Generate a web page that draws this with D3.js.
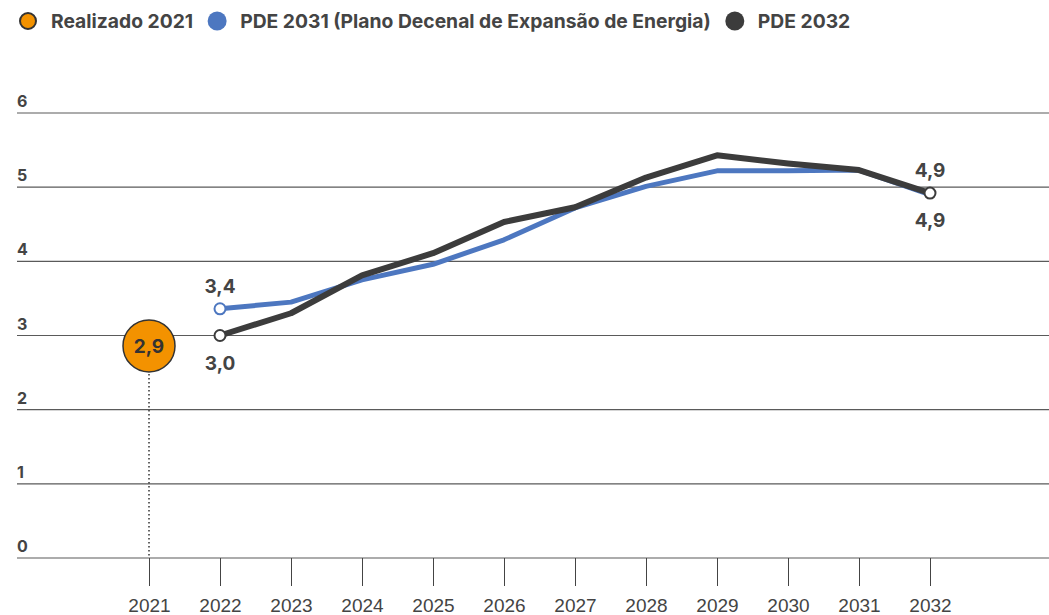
<!DOCTYPE html>
<html>
<head>
<meta charset="utf-8">
<script src="https://cdn.jsdelivr.net/npm/d3@7"></script>
<style>
  body { margin: 0; background: #fff; }
  svg { display: block; }
</style>
</head>
<body>
<svg id="chart"></svg>
<script>
const years = [2021, 2022, 2023, 2024, 2025, 2026, 2027, 2028, 2029, 2030, 2031, 2032];
const realizado = [{ ano: 2021, valor: 2.9 }];
const pde2031 = [3.36, 3.45, 3.75, 3.96, 4.29, 4.72, 5.01, 5.22, 5.22, 5.23, 4.9];
const pde2032 = [3.0, 3.3, 3.81, 4.11, 4.53, 4.73, 5.13, 5.43, 5.32, 5.23, 4.92];
const pdeYears = years.slice(1);
const yTicks = [0, 1, 2, 3, 4, 5, 6];
const legendItems = ["Realizado 2021", "PDE 2031 (Plano Decenal de Expansão de Energia)", "PDE 2032"];

const W = 1049, H = 615;
const colors = { real: "#f39200", blue: "#4d77c0", dark: "#3c3c3c", text: "#444" };
const labelFont = "Inter, 'Liberation Sans', sans-serif";

const svg = d3.select("#chart").attr("width", W).attr("height", H);

const x = d3.scalePoint().domain(years).range([149, 930]);
const y = d3.scaleLinear().domain([0, 6]).range([558, 113]);

// grid lines + y labels
const grid = svg.append("g");
yTicks.forEach(t => {
  grid.append("line")
    .attr("x1", 17).attr("x2", W)
    .attr("y1", y(t)).attr("y2", y(t))
    .attr("stroke", "#5a5a5a").attr("stroke-width", 1.2);
  grid.append("text")
    .attr("x", 17).attr("y", y(t) - 6)
    .attr("font-family", labelFont).attr("font-weight", 700)
    .attr("font-size", 16).attr("fill", colors.text)
    .text(t);
});

// x axis ticks
const xAxis = svg.append("g").attr("transform", "translate(0," + y(0) + ")")
  .call(d3.axisBottom(x).tickSize(28).tickPadding(13));
xAxis.select(".domain").remove();
xAxis.selectAll("line").attr("stroke", "#444");
xAxis.selectAll("text")
  .attr("font-family", "'Liberation Sans', Arial, sans-serif")
  .attr("font-size", 19).attr("fill", colors.text);

// dotted guide for realizado
svg.append("line")
  .attr("x1", x(2021)).attr("x2", x(2021))
  .attr("y1", y(realizado[0].valor) + 27).attr("y2", y(0))
  .attr("stroke", "#333").attr("stroke-width", 1.5)
  .attr("stroke-dasharray", "1.5,2.5");

const line = d3.line().x(d => x(d[0])).y(d => y(d[1]));
const s31 = pdeYears.map((a, i) => [a, pde2031[i]]);
const s32 = pdeYears.map((a, i) => [a, pde2032[i]]);

svg.append("path").datum(s31)
  .attr("fill", "none").attr("stroke", colors.blue)
  .attr("stroke-width", 5).attr("stroke-linejoin", "round")
  .attr("d", line);
svg.append("path").datum(s32)
  .attr("fill", "none").attr("stroke", colors.dark)
  .attr("stroke-width", 6).attr("stroke-linejoin", "round")
  .attr("d", line);

// endpoint markers
[[s31[0], colors.blue], [s32[0], colors.dark], [s32[s32.length - 1], colors.dark]].forEach(([d, c]) => {
  svg.append("circle")
    .attr("cx", x(d[0])).attr("cy", y(d[1])).attr("r", 5.5)
    .attr("fill", "#fff").attr("stroke", c).attr("stroke-width", 2);
});

const fmt = v => d3.format(".1f")(v).replace(".", ",");
function valueLabel(ano, v, dy) {
  svg.append("text")
    .attr("x", x(ano)).attr("y", y(v) + dy)
    .attr("text-anchor", "middle")
    .attr("font-family", labelFont).attr("font-weight", 700)
    .attr("font-size", 19).attr("fill", colors.text)
    .text(fmt(v));
}
valueLabel(2022, pde2031[0], -16);
valueLabel(2022, pde2032[0], 34);
valueLabel(2032, pde2032[pde2032.length - 1], -16);
valueLabel(2032, pde2031[pde2031.length - 1], 32);

// realizado bubble
realizado.forEach(d => {
  svg.append("circle")
    .attr("cx", x(d.ano)).attr("cy", y(d.valor) + 3).attr("r", 26)
    .attr("fill", colors.real).attr("stroke", "#333").attr("stroke-width", 1.5);
  svg.append("text")
    .attr("x", x(d.ano)).attr("y", y(d.valor) + 10)
    .attr("text-anchor", "middle")
    .attr("font-family", labelFont).attr("font-weight", 700)
    .attr("font-size", 19).attr("fill", "#333")
    .text(fmt(d.valor));
});

// legend
const legendColors = [colors.real, colors.blue, colors.dark];
const lg = svg.append("g");
let cx = 28;
legendItems.forEach((name, i) => {
  lg.append("circle")
    .attr("cx", cx).attr("cy", 21).attr("r", i === 0 ? 8 : 9.5)
    .attr("fill", legendColors[i])
    .attr("stroke", i === 0 ? "#333" : "none").attr("stroke-width", 2);
  const t = lg.append("text")
    .attr("x", cx + 23).attr("y", 28)
    .attr("font-family", labelFont).attr("font-weight", 700)
    .attr("font-size", 19.3).attr("fill", colors.text)
    .text(name);
  cx += 23 + t.node().getComputedTextLength() + 24;
});
</script>
</body>
</html>
